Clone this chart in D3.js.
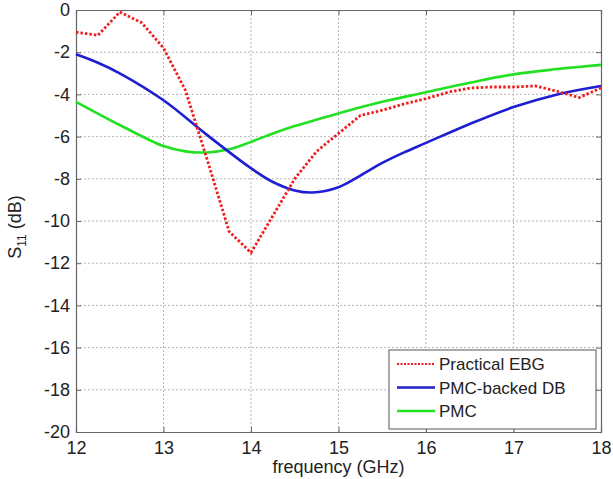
<!DOCTYPE html>
<html>
<head>
<meta charset="utf-8">
<script src="https://cdn.jsdelivr.net/npm/d3@7"></script>
<style>
  body { margin: 0; background: #fff; }
  text { font-family: "Liberation Sans", Arial, sans-serif; fill: #222; }
</style>
</head>
<body>
<svg></svg>
<script>
const size = { w: 613, h: 479 };
const margin = { t: 10, r: 12, b: 47, l: 76 };

// Practical EBG, sampled every 0.25 GHz
const ebgFreq = [12, 12.25, 12.5, 12.75, 13, 13.25, 13.5, 13.75, 14, 14.25, 14.5, 14.75,
	15, 15.25, 15.5, 15.75, 16, 16.25, 16.5, 16.75, 17, 17.25, 17.5, 17.75, 18];
const ebgS11 = [-1.05, -1.2, -0.1, -0.6, -1.8, -3.8, -7.1, -10.5, -11.5, -9.75, -8.0, -6.7,
	-5.85, -5.0, -4.75, -4.45, -4.2, -3.9, -3.7, -3.65, -3.65, -3.6, -3.85, -4.15, -3.7];

// PMC-backed DB
const dbFreq = [12, 12.25, 12.5, 13, 13.5, 14, 14.25, 14.5, 14.7, 15, 15.25, 15.5, 15.75, 16, 16.5, 17, 17.5, 18];
const dbS11 = [-2.1, -2.5, -3.0, -4.28, -5.93, -7.5, -8.15, -8.55, -8.65, -8.4, -7.85, -7.25, -6.75, -6.3, -5.4, -4.6, -4.0, -3.6];

// PMC
const pmcFreq = [12, 12.5, 13, 13.25, 13.5, 13.75, 14, 14.25, 14.5, 15, 15.5, 16, 16.5, 17, 17.5, 18];
const pmcS11 = [-4.35, -5.45, -6.45, -6.7, -6.75, -6.6, -6.25, -5.85, -5.5, -4.9, -4.35, -3.9, -3.45, -3.05, -2.8, -2.6];

const xTicks = [12, 13, 14, 15, 16, 17, 18];
const yTicks = [0, -2, -4, -6, -8, -10, -12, -14, -16, -18, -20];
const legendNames = ["Practical EBG", "PMC-backed DB", "PMC"];

const svg = d3.select("svg").attr("width", size.w).attr("height", size.h);

const x = d3.scaleLinear().domain([12, 18]).range([margin.l, size.w - margin.r]);
const y = d3.scaleLinear().domain([-20, 0]).range([size.h - margin.b, margin.t]);

// grid
const grid = svg.append("g").attr("stroke", "#b8b8b8").attr("stroke-dasharray", "2,2").attr("stroke-width", 1);
grid.selectAll("line.gx").data(xTicks.slice(1, -1)).enter().append("line")
	.attr("x1", d => x(d)).attr("x2", d => x(d))
	.attr("y1", y(0)).attr("y2", y(-20));
grid.selectAll("line.gy").data(yTicks.slice(1, -1)).enter().append("line")
	.attr("y1", d => y(d)).attr("y2", d => y(d))
	.attr("x1", x(12)).attr("x2", x(18));

// axes (MATLAB style: ticks inward, box around)
svg.append("g").attr("transform", `translate(0,${y(-20)})`)
	.call(d3.axisBottom(x).tickValues(xTicks).tickSize(-5).tickPadding(9).tickFormat(d3.format("d")));
svg.append("g").attr("transform", `translate(${x(12)},0)`)
	.call(d3.axisLeft(y).tickValues(yTicks).tickSize(-5).tickPadding(6).tickFormat(d => d === 0 ? "0" : d));
svg.append("g").attr("transform", `translate(0,${y(0)})`)
	.call(d3.axisTop(x).tickValues(xTicks).tickSize(-5).tickFormat(""));
svg.append("g").attr("transform", `translate(${x(18)},0)`)
	.call(d3.axisRight(y).tickValues(yTicks).tickSize(-5).tickFormat(""));

svg.selectAll(".domain").attr("stroke", "#666").attr("stroke-width", 1.2);
svg.selectAll(".tick line").attr("stroke", "#666");
svg.selectAll(".tick text").attr("font-size", 18).attr("fill", "#222")
	.attr("font-family", "Liberation Sans, Arial, sans-serif");

// lines
const lineLinear = d3.line().x(d => x(d[0])).y(d => y(d[1]));
const lineSmooth = d3.line().x(d => x(d[0])).y(d => y(d[1])).curve(d3.curveCatmullRom.alpha(0.5));

const plot = svg.append("g");
plot.append("path").datum(d3.zip(pmcFreq, pmcS11))
	.attr("d", lineSmooth).attr("fill", "none").attr("stroke", "#22e022").attr("stroke-width", 2.6);
plot.append("path").datum(d3.zip(dbFreq, dbS11))
	.attr("d", lineSmooth).attr("fill", "none").attr("stroke", "#1e1ed2").attr("stroke-width", 2.6);
plot.append("path").datum(d3.zip(ebgFreq, ebgS11))
	.attr("d", lineLinear).attr("fill", "none").attr("stroke", "#f01e1e").attr("stroke-width", 2.8)
	.attr("stroke-dasharray", "2.5,2");

// axis labels
svg.append("text").attr("x", (x(12) + x(18)) / 2).attr("y", 473)
	.attr("text-anchor", "middle").attr("font-size", 18).text("frequency (GHz)");

const yl = svg.append("text").attr("transform", `translate(21,${(y(0) + y(-20)) / 2 + 6}) rotate(-90)`)
	.attr("text-anchor", "middle").attr("font-size", 18);
yl.append("tspan").text("S");
yl.append("tspan").attr("dy", 5).attr("font-size", 12).text("11");
yl.append("tspan").attr("dy", -5).text(" (dB)");

// legend
const leg = svg.append("g").attr("transform", "translate(389,350)");
leg.append("rect").attr("width", 207).attr("height", 79)
	.attr("fill", "#fff").attr("stroke", "#555").attr("stroke-width", 1);
const legStyles = [
	{ c: "#f01e1e", dash: "2,1.5", w: 2 },
	{ c: "#1e1ed2", dash: null, w: 2.4 },
	{ c: "#22e022", dash: null, w: 2.4 }
];
legendNames.forEach(function (name, i) {
	const yy = 14 + i * 23.5;
	leg.append("line").attr("x1", 8).attr("x2", 46).attr("y1", yy).attr("y2", yy)
		.attr("stroke", legStyles[i].c).attr("stroke-width", legStyles[i].w)
		.attr("stroke-dasharray", legStyles[i].dash);
	leg.append("text").attr("x", 50).attr("y", yy + 6).attr("font-size", 17).text(name);
});
</script>
</body>
</html>
